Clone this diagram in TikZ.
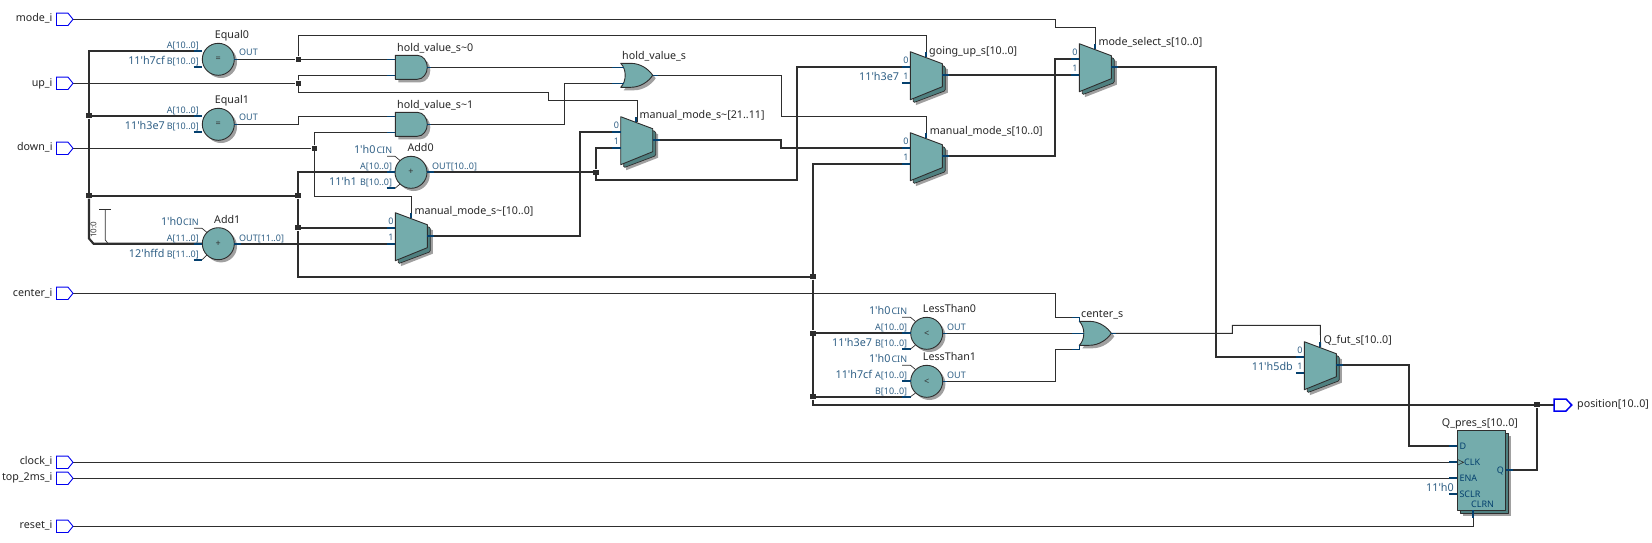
\documentclass[tikz,border=0pt]{standalone}
\usepackage{fontspec}
\setmainfont{Noto Sans}
\pgfdeclarelayer{wires}
\pgfsetlayers{wires,main}
\definecolor{teal1}{HTML}{74ACAC}
\definecolor{teal2}{HTML}{4F8080}
\definecolor{shad}{HTML}{A0A0A0}
\definecolor{wirec}{HTML}{2E2E2E}
\definecolor{stubc}{HTML}{04406E}
\definecolor{portc}{HTML}{2F5F85}
\definecolor{pinb}{HTML}{0000F0}
\newcommand{\tq}{\textquotesingle}
\tikzset{
  w/.style={draw=wirec,line width=0.9pt},
  bw/.style={draw=wirec,line width=2.1pt},
  stubt/.style={draw=stubc,line width=0.9pt},
  stubb/.style={draw=stubc,line width=1.9pt},
  body/.style={fill=teal1,draw=wirec,line width=0.9pt,line join=round},
  back/.style={fill=teal2,draw=wirec,line width=0.7pt,line join=round},
  sh/.style={fill=shad,draw=none},
  pinshape/.style={draw=pinb,line width=0.9pt,fill=white,line join=miter},
  junc/.style={fill=wirec,draw=none,inner sep=0pt,minimum size=5.5pt,rectangle},
  lbl/.style={font=\fontsize{10.7}{12}\selectfont,text=black!85,anchor=mid west,inner sep=0pt,yshift=-1.7pt},
  lblr/.style={font=\fontsize{10.7}{12}\selectfont,text=black!85,anchor=mid east,inner sep=0pt,yshift=-1.7pt},
  plbl/.style={font=\fontsize{9}{10}\selectfont,text=portc,anchor=mid east,inner sep=0pt,yshift=-1pt},
  plbll/.style={font=\fontsize{9}{10}\selectfont,text=portc,anchor=mid west,inner sep=0pt,yshift=-1pt},
  ffl/.style={font=\fontsize{9}{10}\selectfont,text=stubc,anchor=mid west,inner sep=0pt,yshift=-1pt},
  clbl/.style={font=\fontsize{10.8}{12}\selectfont,text=portc,anchor=mid east,inner sep=0pt,yshift=-2.5pt},
  cmpc/.style={circle,body,minimum size=32pt,inner sep=0pt,font=\fontsize{9}{9}\selectfont,text=black!80},
}
% input pin: name, y, text, label y
\newcommand{\pinin}[4]{%
  \path[pinshape] (56.5,#2-6.2) -- (68,#2-6.2) -- (73,#2) -- (68,#2+6.2) -- (56.5,#2+6.2) -- cycle;
  \coordinate (p-#1) at (73,#2);
  \node[lblr] (pl-#1) at (52.7,#4) {#3};}
% mux: name, x, ytop
\newcommand{\muxs}[3]{%
  \begin{scope}[shift={(#2,#3)}]
    \fill[sh] (5.5,5.5) -- (37.5,17.5) -- (37.5,41) -- (5.5,53.5) -- cycle;
    \path[back,rounded corners=1.2pt] (3,3) -- (35,15) -- (35,39) -- (3,51) -- cycle;
    \path[body] (0,0) -- (32,12) -- (32,35) -- (0,48) -- cycle;
    \coordinate (#1-0) at (0,15);
    \coordinate (#1-1) at (0,31);
    \coordinate (#1-o) at (32,23);
    \coordinate (#1-s) at (16.3,5.5);
    \draw[stubb] (-8.5,15) -- (0,15);
    \draw[stubb] (-8.5,31) -- (0,31);
    \draw[stubb] (32,23) -- (39,23);
    \draw[stubb] (15.5,0.3) -- (15.5,5.5);
    \node[plbl] (#1-l0) at (-1.5,8) {0};
    \node[plbl] (#1-l1) at (-1.5,24.3) {1};
  \end{scope}}
% comparator / adder circle: name, x, y, symbol
\newcommand{\cmps}[4]{%
  \fill[sh] (#2+2.7,#3+2.7) circle (16);
  \node[cmpc] (#1) at (#2,#3) {#4};
  \draw[stubt] (#2+16,#3) -- (#2+20,#3);
  \coordinate (#1-o) at (#2+16,#3);}
% and gate: name, x, ytop
\newcommand{\ands}[3]{%
  \begin{scope}[shift={(#2,#3)}]
    \fill[sh] (3,3) -- (25,3) .. controls (31,3) and (35,9) .. (35,15) .. controls (35,21) and (31,27) .. (25,27) -- (3,27) -- cycle;
    \path[body] (0,0) -- (22,0) .. controls (28,0) and (32,6) .. (32,12) .. controls (32,18) and (28,24) .. (22,24) -- (0,24) -- cycle;
    \coordinate (#1-a) at (0,4);
    \coordinate (#1-b) at (0,20);
    \coordinate (#1-o) at (32,12);
    \draw[stubt] (-8,4) -- (0,4);
    \draw[stubt] (-8,20) -- (0,20);
    \draw[stubt] (32,12) -- (36,12);
  \end{scope}}
% or gate: name, x, ytop
\newcommand{\orss}[3]{%
  \begin{scope}[shift={(#2,#3)}]
    \fill[sh] (3,3) -- (13,3) .. controls (23,3) and (31,9) .. (35,15) .. controls (31,21) and (23,27) .. (13,27) -- (3,27) .. controls (9,21) and (9,9) .. (3,3) -- cycle;
    \path[body] (0,0) -- (10,0) .. controls (20,0) and (28,6) .. (32,12) .. controls (28,18) and (20,24) .. (10,24) -- (0,24) .. controls (6,18) and (6,6) .. (0,0) -- cycle;
    \coordinate (#1-o) at (32,12);
    \draw[stubt] (32,12) -- (37,12);
  \end{scope}}
\begin{document}
\begin{tikzpicture}[x=1pt,y=-1pt]
\useasboundingbox (0,0) rectangle (1652,542);

% ---- input pins
\pinin{mode}{19.3}{mode\_i}{17}
\pinin{up}{83.3}{up\_i}{81.7}
\pinin{down}{148.3}{down\_i}{146}
\pinin{center}{293.3}{center\_i}{291.7}
\pinin{clock}{462.3}{clock\_i}{460.3}
\pinin{top}{478.3}{top\_2ms\_i}{476.3}
\pinin{reset}{526.3}{reset\_i}{524.3}

% ---- output pin
\path[pinshape,line width=1.5pt] (1554,399) -- (1566,399) -- (1571.7,405) -- (1566,411) -- (1554,411) -- cycle;
\coordinate (p-pos) at (1554,404.7);
\node[lbl] (pl-pos) at (1577,403.3) {position[10..0]};

% ---- Equal0
\cmps{eq0}{218.3}{59.3}{=}
\coordinate (eq0-a) at (202,51.3);
\coordinate (eq0-b) at (202,66.7);
\draw[stubb] (193.5,51.3) -- (202,51.3);
\draw[stubb] (193.5,66.7) -- (202,66.7);
\node[lbl] (eq0-n) at (214.7,34.3) {Equal0};
\node[plbl] (eq0-la) at (199,44.7) {A[10..0]};
\node[plbl] (eq0-lb) at (199,61) {B[10..0]};
\node[clbl] (eq0-c) at (165,59) {11\tq{}h7cf};
\node[plbll] (eq0-lo) at (239,52.3) {OUT};

% ---- Equal1
\cmps{eq1}{218.3}{124.3}{=}
\coordinate (eq1-a) at (202,115.7);
\draw[stubb] (193.5,115.7) -- (202,115.7);
\draw[stubb] (193.5,131.7) -- (202,131.7);
\node[lbl] (eq1-n) at (214.7,99.3) {Equal1};
\node[plbl] (eq1-la) at (199,109.7) {A[10..0]};
\node[plbl] (eq1-lb) at (199,126) {B[10..0]};
\node[clbl] (eq1-c) at (165,124) {11\tq{}h3e7};
\node[plbll] (eq1-lo) at (239,117.3) {OUT};

% ---- Add1
\cmps{add1}{218.3}{243.7}{+}
\coordinate (add1-a) at (202,243.7);
\draw[stubb] (193.5,243.7) -- (202,243.7);
\draw[stubb] (193.5,259.7) -- (202,259.7);
\draw[stubb] (234.3,243.7) -- (241,243.7);
\draw[wirec,line width=.7pt] (194,228.3) -- (202,228.3) -- (207,232.5);
\draw[wirec,line width=.7pt] (202,259.7) -- (207,255);
\node[lbl] (add1-n) at (214,219) {Add1};
\node[clbl] (add1-ci) at (182.7,220) {1\tq{}h0};
\node[plbl] (add1-lc) at (199,221.7) {CIN};
\node[plbl] (add1-la) at (199,237.7) {A[11..0]};
\node[plbl] (add1-lb) at (199,253.7) {B[11..0]};
\node[clbl] (add1-c) at (164.7,252) {12\tq{}hffd};
\node[plbll] (add1-lo) at (239,237.7) {OUT[11..0]};

% ---- Add0
\cmps{add0}{411}{172.3}{+}
\coordinate (add0-a) at (395,172.3);
\draw[stubb] (386.5,172.3) -- (395,172.3);
\draw[stubb] (386.5,188.3) -- (395,188.3);
\draw[stubb] (427,172.3) -- (434,172.3);
\draw[wirec,line width=.7pt] (387,156.3) -- (395,156.3) -- (400,160.5);
\draw[wirec,line width=.7pt] (395,188.3) -- (400,184);
\node[lbl] (add0-n) at (407.3,147) {Add0};
\node[clbl] (add0-ci) at (375.7,148) {1\tq{}h0};
\node[plbl] (add0-lc) at (392.3,150) {CIN};
\node[plbl] (add0-la) at (392.3,165.7) {A[10..0]};
\node[plbl] (add0-lb) at (392.3,181.7) {B[10..0]};
\node[clbl] (add0-c) at (357,180) {11\tq{}h1};
\node[plbll] (add0-lo) at (432,165.7) {OUT[10..0]};

% ---- LessThan0
\cmps{lt0}{926.7}{333.3}{<}
\coordinate (lt0-a) at (910.5,333.3);
\draw[stubb] (902,333.3) -- (910.5,333.3);
\draw[stubb] (902,349) -- (910.5,349);
\draw[wirec,line width=.7pt] (902,317.3) -- (910.5,317.3) -- (915.5,321.5);
\draw[wirec,line width=.7pt] (910.5,349) -- (915.5,345);
\node[lbl] (lt0-n) at (922.7,308.3) {LessThan0};
\node[clbl] (lt0-ci) at (890.7,309) {1\tq{}h0};
\node[plbl] (lt0-lc) at (907.3,310.7) {CIN};
\node[plbl] (lt0-la) at (907.3,326.7) {A[10..0]};
\node[plbl] (lt0-lb) at (907.3,342.7) {B[10..0]};
\node[clbl] (lt0-c) at (872.3,341) {11\tq{}h3e7};
\node[plbll] (lt0-lo) at (947,326.7) {OUT};

% ---- LessThan1
\cmps{lt1}{926.7}{381.3}{<}
\coordinate (lt1-b) at (910.5,396.7);
\draw[stubb] (902,381.3) -- (910.5,381.3);
\draw[stubb] (902,396.7) -- (910.5,396.7);
\draw[wirec,line width=.7pt] (902,365.3) -- (910.5,365.3) -- (915.5,369.5);
\draw[wirec,line width=.7pt] (910.5,396.7) -- (915.5,393);
\node[lbl] (lt1-n) at (922.7,356.3) {LessThan1};
\node[clbl] (lt1-ci) at (890.7,357) {1\tq{}h0};
\node[plbl] (lt1-lc) at (907.3,358.7) {CIN};
\node[plbl] (lt1-la) at (907.3,374.7) {A[10..0]};
\node[plbl] (lt1-lb) at (907.3,390.7) {B[10..0]};
\node[clbl] (lt1-c) at (872.3,373) {11\tq{}h7cf};
\node[plbll] (lt1-lo) at (947,374.7) {OUT};

% ---- AND gates
\ands{and0}{395.3}{55.3}
\node[lbl] (and0-n) at (397,47) {hold\_value\_s\textasciitilde0};
\ands{and1}{395.3}{112.3}
\node[lbl] (and1-n) at (397,104) {hold\_value\_s\textasciitilde1};

% ---- OR gates
\orss{orh}{620.7}{63.3}
\coordinate (orh-a) at (624,67.3);
\coordinate (orh-b) at (624,83.3);
\draw[stubt] (612,67.3) -- (624,67.3);
\draw[stubt] (612,83.3) -- (624,83.3);
\node[lbl] (orh-n) at (622,55) {hold\_value\_s};

\orss{orc}{1079.3}{321.3}
\coordinate (orc-a) at (1079.3,317.3);
\coordinate (orc-b) at (1083.5,333.3);
\coordinate (orc-c) at (1079.3,349.3);
\draw[stubt] (1071.7,317.3) -- (1079.3,317.3) -- (1079.3,322);
\draw[stubt] (1071.7,333.3) -- (1083.5,333.3);
\draw[stubt] (1071.7,349.3) -- (1079.3,349.3) -- (1079.3,344.5);
\node[lbl] (orc-n) at (1081,313.3) {center\_s};

% ---- multiplexers
\muxs{mm10}{395.3}{212.7}
\node[lbl] (mm10-n) at (414.3,210.3) {manual\_mode\_s\textasciitilde[10..0]};
\muxs{mm21}{620.7}{116.7}
\node[lbl] (mm21-n) at (639.3,114.3) {manual\_mode\_s\textasciitilde[21..11]};
\muxs{gu}{910.3}{51.7}
\node[lbl] (gu-n) at (929,49.7) {going\_up\_s[10..0]};
\node[clbl] (gu-c) at (899.3,75) {11\tq{}h3e7};
\muxs{mm}{910.3}{132.7}
\node[lbl] (mm-n) at (929.7,130) {manual\_mode\_s[10..0]};
\muxs{ms}{1079.3}{43.7}
\node[lbl] (ms-n) at (1098.3,41.3) {mode\_select\_s[10..0]};
\muxs{qf}{1304.3}{341.7}
\node[lbl] (qf-n) at (1323.3,339) {Q\_fut\_s[10..0]};
\node[clbl] (qf-c) at (1293,365) {11\tq{}h5db};

% ---- register
\fill[sh] (1462.5,435.5) rectangle (1511,515.5);
\path[back] (1460.3,433.3) rectangle (1508.7,513.3);
\path[body] (1457.3,430.3) rectangle (1505.7,510.3);
\coordinate (ff-d) at (1457.3,446);
\coordinate (ff-clk) at (1457.3,462.3);
\coordinate (ff-ena) at (1457.3,478.3);
\coordinate (ff-q) at (1505.7,469.7);
\coordinate (ff-clrn) at (1473.5,518);
\draw[stubb] (1449,446) -- (1457.3,446);
\draw[stubb] (1449,462.3) -- (1457.3,462.3);
\draw[stubb] (1449,478.3) -- (1457.3,478.3);
\draw[stubb] (1449,494) -- (1457.3,494);
\draw[stubb] (1505.7,469.7) -- (1513,469.7);
\draw[stubb] (1473,510.3) -- (1473,518);
\draw[wirec,line width=.6pt] (1457.3,459.3) -- (1463.5,462.3) -- (1457.3,465.3);
\node[lbl] (ff-n) at (1441.7,421.7) {Q\_pres\_s[10..0]};
\node[clbl] (ff-c) at (1454,486) {11\tq{}h0};
\node[ffl] (ff-ld) at (1459.3,446) {D};
\node[ffl] (ff-lc) at (1464,462) {CLK};
\node[ffl] (ff-le) at (1459.3,478) {ENA};
\node[ffl] (ff-ls) at (1459.3,494) {SCLR};
\node[ffl] (ff-lr) at (1471,503.5) {CLRN};
\node[ffl,anchor=mid east] (ff-lq) at (1504,470) {Q};

% ---- junctions
\node[junc] (j-eq0) at (298.3,59.3) {};
\node[junc] (j-up) at (298.3,83.3) {};
\node[junc] (j-down) at (314.3,148.3) {};
\node[junc] (j-b1) at (89,115.7) {};
\node[junc] (j-b2) at (89,195.7) {};
\node[junc] (j-b3) at (298,195.7) {};
\node[junc] (j-b4) at (298,227.7) {};
\node[junc] (j-b5) at (813,276.7) {};
\node[junc] (j-b6) at (813,333.3) {};
\node[junc] (j-b7) at (813,396.7) {};
\node[junc] (j-add) at (596,172.3) {};
\node[junc] (j-pos) at (1537,404.7) {};

% ---- bus tap
\draw[wirec,line width=.9pt] (99,209.3) -- (110.7,209.3);
\draw[wirec,line width=.7pt] (105.3,209.3) -- (105.3,240) -- (108,243.5);
\node[font=\fontsize{8}{9}\selectfont,text=black!80,rotate=90,inner sep=0pt] (tap) at (93.5,230) {10:0};

% ---- wires
\begin{pgfonlayer}{wires}
\draw[w] (p-mode) -| (1055.3,27.3) -| (ms-s);
\draw[w] (p-up) -- (j-up);
\draw[w] (j-up) |- (and0-b);
\draw[w] (j-up) -- (298.3,92.3) -| (548.3,100.3) -| (mm21-s);
\draw[w] (eq0-o) -- (j-eq0) -- (and0-a);
\draw[w] (j-eq0) |- (926.6,35.3) -- (gu-s);
\draw[w] (eq1-o) -| (298.3,116.3) -- (and1-a);
\draw[w] (p-down) -- (j-down);
\draw[w] (j-down) |- (and1-b);
\draw[w] (j-down) |- (411.6,196.3) -- (mm10-s);
\draw[w] (and0-o) -- (orh-a);
\draw[w] (and1-o) -| (564.3,83.3) -- (orh-b);
\draw[w] (orh-o) -| (781.7,116.3) -| (mm-s);
\draw[w] (p-center) -| (1055.3,317.3) -- (orc-a);
\draw[w] (lt0-o) -- (orc-b);
\draw[w] (lt1-o) -| (1055.3,349.3) -- (orc-c);
\draw[w] (orc-o) -- (1232.3,333.3) |- (1320.3,325.3) -- (qf-s);
\draw[w] (p-clock) -- (ff-clk);
\draw[w] (p-top) -- (ff-ena);
\draw[w] (p-reset) -| (ff-clrn);
\draw[bw,line join=miter] (eq0-a) -| (j-b1);
\draw[bw] (j-b1) -- (eq1-a);
\draw[bw] (j-b1) -- (j-b2) -- (j-b3);
\draw[bw] (j-b2) -- (89,238.5) -- (93.5,243.7) -- (add1-a);
\draw[bw] (add1-o) -- (mm10-1);
\draw[bw,line join=miter] (add0-a) -| (j-b3);
\draw[bw] (j-b3) -- (j-b4) -- (mm10-0);
\draw[bw,line join=miter] (j-b4) |- (j-b5);
\draw[bw] (mm-1) -| (j-b5);
\draw[bw] (j-b5) -- (j-b6) -- (lt0-a);
\draw[bw] (j-b6) -- (j-b7) -- (lt1-b);
\draw[bw,line join=miter] (j-b7) |- (j-pos);
\draw[bw] (j-pos) -- (p-pos);
\draw[bw] (add0-o) -- (j-add);
\draw[bw] (j-add) |- (mm21-1);
\draw[bw] (j-add) -- (596,180) -| (796.7,66.7) -- (gu-0);
\draw[bw] (mm10-o) -| (580,131.7) -- (mm21-0);
\draw[bw] (mm21-o) -| (781,147.7) -- (mm-0);
\draw[bw] (gu-o) -- (ms-1);
\draw[bw] (mm-o) -| (1055.3,58.7) -- (ms-0);
\draw[bw] (ms-o) -| (1215.7,356.7) -- (qf-0);
\draw[bw] (qf-o) -| (1409,446) -- (ff-d);
\draw[bw] (ff-q) -| (j-pos);
\end{pgfonlayer}
\end{tikzpicture}
\end{document}
